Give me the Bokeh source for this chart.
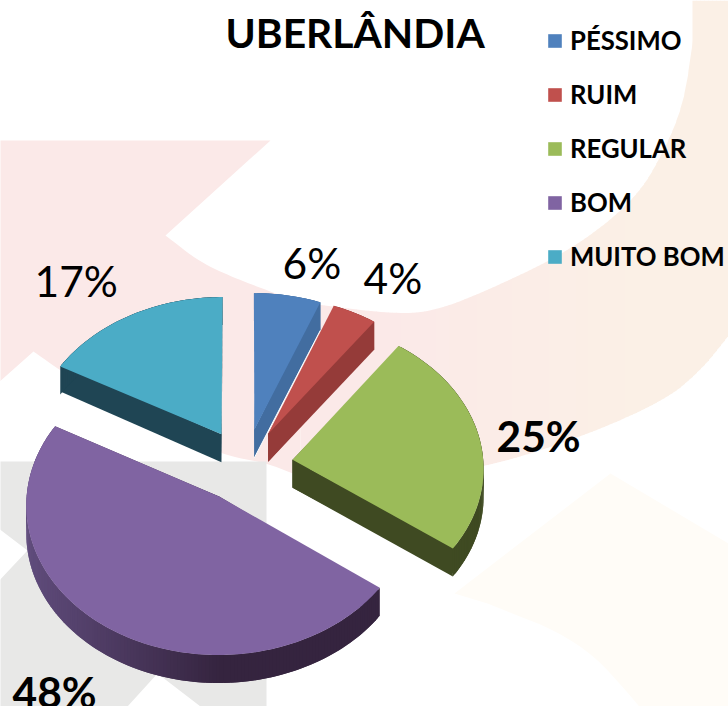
import numpy as np
from bokeh.plotting import figure
from bokeh.models import Range1d, Legend, LegendItem
from bokeh.core.properties import value
from bokeh.embed import file_html
from bokeh.resources import INLINE

title_text = "UBERLÂNDIA"
categories = ["PÉSSIMO", "RUIM", "REGULAR", "BOM", "MUITO BOM"]
values = [6, 4, 25, 48, 17]

colors = ["#4F81BD", "#C0504D", "#9BBB59", "#8064A2", "#4BACC6"]
wall_colors = ["#426DA0", "#953B39", "#3F4A22", "#35243F", "#1F4554"]
label_x = [282, 363, 34, 496, 12]
label_order = [0, 1, 4, 2, 3]
label_y = [279, 294, 297, 452, 708]
label_bold = [False, False, False, True, True]

W, H = 728, 706
CX, CY, RX, RY, K, EXPLODE, DEPTH = 245.0, 465.0, 191.0, 147.0, 0.05, 0.25, 28.0
TEXT_SHIFT = 0.39

p = figure(width=W, height=H, x_range=Range1d(0, W), y_range=Range1d(H, 0),
           toolbar_location=None, output_backend="svg", min_border=0,
           background_fill_color="white", border_fill_color="white",
           outline_line_color=None, margin=0)
p.xaxis.visible = False
p.yaxis.visible = False
p.grid.visible = False


def hexmix(a, b, t):
    ca = [int(a[i:i + 2], 16) for i in (1, 3, 5)]
    cb = [int(b[i:i + 2], 16) for i in (1, 3, 5)]
    return "#%02X%02X%02X" % tuple(int(round(x + (y - x) * t)) for x, y in zip(ca, cb))


def chaikin(xs, ys, n=3):
    pts = np.column_stack([xs, ys]).astype(float)
    for _ in range(n):
        q = 0.75 * pts[:-1] + 0.25 * pts[1:]
        r = 0.25 * pts[:-1] + 0.75 * pts[1:]
        mid = np.empty((2 * len(q), 2))
        mid[0::2], mid[1::2] = q, r
        pts = np.vstack([pts[0], mid, pts[-1]])
    return pts[:, 0], pts[:, 1]


# decorative watermark behind the chart
PINK, PEACH, CREAM, GRAY = "#FBE9E8", "#FBF0E6", "#FFFCF7", "#E8E8E7"
ax, ay = chaikin([165, 200, 233, 267, 300], [235, 262, 277, 290, 302])
bx, by = chaikin([300, 265, 222, 120, 60, 33], [476, 462, 455, 410, 370, 351])
p.patch([-3, 270] + list(ax) + list(bx) + [-3],
        [140, 140] + list(ay) + list(by) + [383],
        fill_color=PINK, line_color=None)
ring_top_x, ring_top_y = chaikin([300, 387, 430, 487, 570, 634, 664, 684, 692],
                                 [302, 313, 312, 290, 250, 200, 150, 100, 40])
ring_bot_x, ring_bot_y = chaikin([300, 380, 485, 580, 664, 700, 728],
                                 [476, 482, 467, 437, 400, 370, 335])
edges = np.linspace(300, 728, 108)
for a, b in zip(edges[:-1], edges[1:]):
    t = np.clip((a - 380) / 260, 0, 1)
    c = hexmix(PINK, PEACH, t)
    top = np.interp([a, b], ring_top_x, ring_top_y)
    if a >= 690:
        top = [0, 0]
    bot = np.interp([a, b], ring_bot_x, ring_bot_y)
    p.patch([a, b + 0.5, b + 0.5, a], [top[0], top[1], bot[1], bot[0]],
            fill_color=c, line_color=None)
cx1, cy1 = chaikin([487, 580, 640, 680], [603, 640, 706, 760])
p.patch([454, 610, 728, 728] + list(cx1[::-1]), [593, 473, 543, 706] + list(cy1[::-1]),
        fill_color=CREAM, line_color=None)
p.patch([-3, 266, 266, 200, 157, 127, -3, -3, 27, -3],
        [461, 461, 706, 706, 673, 706, 706, 582, 550, 527],
        fill_color=GRAY, line_color=None)


def project(u, v):
    s = 1.0 / (1.0 + K * v)
    return CX + RX * u * s, CY - RY * v * s


fractions = np.array(values, dtype=float) / sum(values)
starts = 90.0 - 360.0 * np.concatenate([[0.0], np.cumsum(fractions)[:-1]])
ends = starts - 360.0 * fractions

tops = []
for i in [4, 0, 1, 2, 3]:
    a0, a1 = starts[i], ends[i]
    mid = np.radians((a0 + a1) / 2)
    ox, oy = EXPLODE * np.cos(mid), EXPLODE * np.sin(mid)
    ang = np.radians(np.linspace(a0, a1, max(8, int(abs(a1 - a0)))))
    us = np.concatenate([[ox], ox + np.cos(ang), [ox]])
    vs = np.concatenate([[oy], oy + np.sin(ang), [oy]])
    X, Y = project(us, vs)
    # extruded wall: overlapping quads so no seams show
    for j in range(len(X) - 1):
        k = min(j + 2, len(X) - 1)
        if i == 3:
            t = np.clip(((X[j] + X[j + 1]) / 2 - 30) / 190, 0, 1)
            col = hexmix("#5F4B7B", wall_colors[i], t)
        else:
            col = wall_colors[i]
        p.patch([X[j], X[k], X[k], X[j]],
                [Y[j], Y[k], Y[k] + DEPTH, Y[j] + DEPTH],
                fill_color=col, line_color=None)
    r = p.patch(X, Y, fill_color=colors[i], line_color=None)
    tops.append((i, r))
    if i == 0:
        p.line([X[-2], X[0]], [Y[-2] + DEPTH, Y[0] + DEPTH], line_color="white", line_width=1)

renderers = dict(tops)

p.text([225], [48 - TEXT_SHIFT * 40.8], text=[title_text], text_font=value("Lato"), text_font_style="bold",
       text_font_size="40.8px", text_color="black", text_baseline="alphabetic")

for idx, lx, ly, bold in zip(label_order, label_x, label_y, label_bold):
    p.text([lx], [ly - TEXT_SHIFT * 42.5], text=[f"{values[idx]}%"], text_font=value("Lato"),
           text_font_style="bold" if bold else "normal", text_font_size="42.5px",
           text_color="black", text_baseline="alphabetic")

legend = Legend(items=[LegendItem(label=c, renderers=[renderers[i]]) for i, c in enumerate(categories)],
                location=(546, H - 36 - 235), orientation="vertical",
                background_fill_alpha=0, border_line_color=None,
                margin=0, padding=0, spacing=24, glyph_width=17, glyph_height=17,
                label_standoff=7, label_text_font="Lato", label_text_font_style="bold",
                label_text_font_size="25.7px", label_text_color="black", label_height=17)
p.add_layout(legend, "center")

open("out.html", "w").write(file_html(p, INLINE))
